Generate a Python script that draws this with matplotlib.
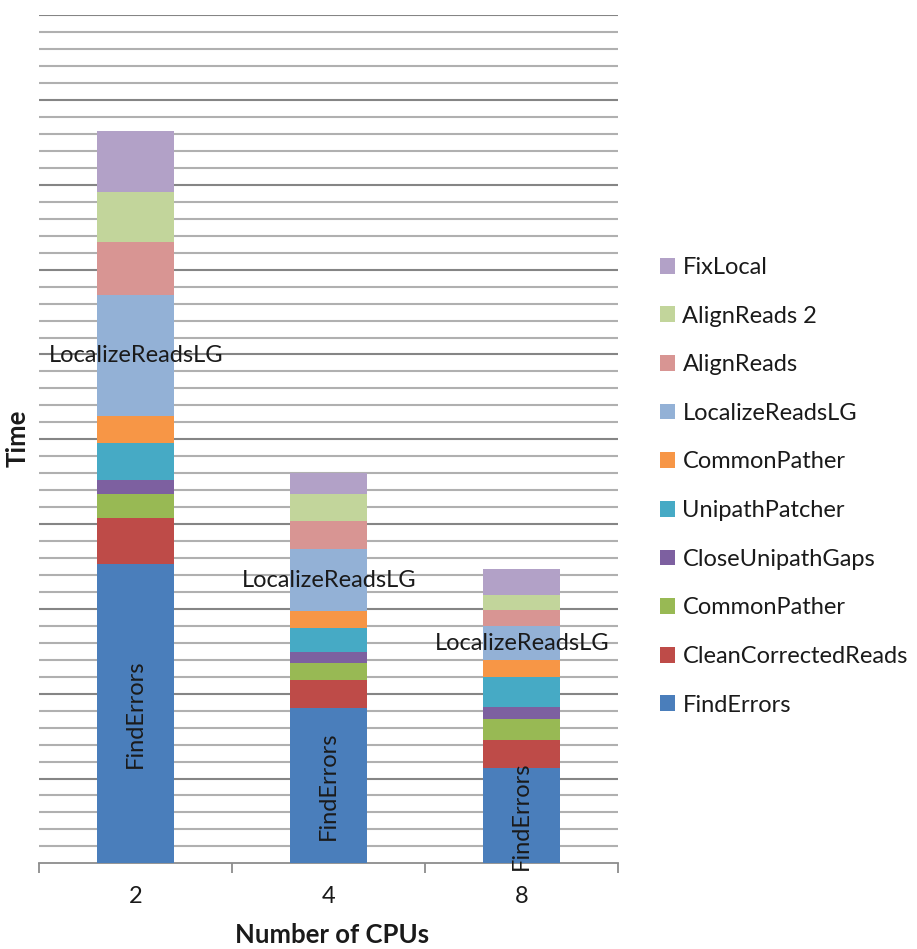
import matplotlib
matplotlib.use("Agg")
import matplotlib.pyplot as plt
import numpy as np

plt.rcParams['font.family'] = ['Lato', 'DejaVu Sans']

categories = ["2", "4", "8"]
series = ["FindErrors", "CleanCorrectedReads", "CommonPather", "CloseUnipathGaps",
          "UnipathPatcher", "CommonPather", "LocalizeReadsLG", "AlignReads",
          "AlignReads 2", "FixLocal"]
find_errors = [17.63, 9.17, 5.60]
clean_corrected = [2.71, 1.64, 1.67]
common_pather_1 = [1.42, 1.02, 1.22]
close_unipath = [0.82, 0.65, 0.74]
unipath_patcher = [2.22, 1.41, 1.76]
common_pather_2 = [1.59, 0.99, 0.98]
localize_reads = [7.12, 3.63, 2.00]
align_reads = [3.14, 1.67, 0.94]
align_reads_2 = [2.91, 1.58, 0.89]
fix_local = [3.62, 1.27, 1.57]
values = [find_errors, clean_corrected, common_pather_1, close_unipath, unipath_patcher,
          common_pather_2, localize_reads, align_reads, align_reads_2, fix_local]
colors = ["#4A7EBB", "#BE4B48", "#98B954", "#7D60A0", "#46AAC5", "#F79646",
          "#93B1D6", "#D89593", "#C2D59B", "#B2A1C7"]

W, H = 917, 949
fig = plt.figure(figsize=(W / 100, H / 100), dpi=100)
ax = fig.add_axes([39.3 / W, 1 - 863.3 / H, (618.3 - 39.3) / W, (863.3 - 15.3) / H])

x = np.arange(len(categories))
bottom = np.zeros(len(categories))
handles = []
txtc = "#1a1a1a"
fs = 17
for i, (name, vals, c) in enumerate(zip(series, values, colors)):
    vals = np.array(vals)
    b = ax.bar(x, vals, 0.4, bottom=bottom, color=c, label=name, zorder=3, linewidth=0)
    handles.append(b)
    if name == "LocalizeReadsLG":
        for xi, bi, vi in zip(x, bottom, vals):
            ax.text(xi, bi + vi / 2, name, ha="center", va="center", fontsize=fs,
                    color=txtc, zorder=5)
    if name == "FindErrors":
        for xi, bi, vi in zip(x, bottom, vals):
            ax.text(xi, bi + vi / 2, name, ha="center", va="center", fontsize=fs,
                    color=txtc, rotation=90, zorder=5)
    bottom += vals

ax.set_xlim(-0.5, 2.5)
ax.set_ylim(0, 50)
for yv in range(1, 51):
    ax.axhline(yv, color="#858585" if yv % 5 == 0 else "#b0b0b0", lw=1.5, zorder=1)

for s in ["left", "right", "top"]:
    ax.spines[s].set_visible(False)
ax.spines["bottom"].set_color("#8c8c8c")
ax.spines["bottom"].set_linewidth(1.3)
ax.set_yticks([])
ax.set_xticks(x)
ax.set_xticklabels(categories, fontsize=fs, color=txtc)
ax.tick_params(axis="x", which="major", length=0, pad=16)
ax.set_xticks([-0.5, 0.5, 1.5, 2.5], minor=True)
ax.tick_params(axis="x", which="minor", length=7, width=1.3, color="#8c8c8c", direction="out")

fig.text(332 / W, 1 - 935 / H, "Number of CPUs", ha="center", va="center",
         fontsize=18.5, fontweight="bold", color=txtc)
fig.text(18 / W, 1 - 438 / H, "Time", ha="center", va="center", rotation=90,
         fontsize=18.5, fontweight="bold", color=txtc)

leg = fig.legend(handles[::-1], series[::-1], loc="upper left",
                 bbox_to_anchor=(660 / W, 1 - 257 / H), frameon=False,
                 fontsize=fs, handlelength=0.65, handleheight=0.65,
                 handletextpad=0.3, labelspacing=1.17, borderaxespad=0, borderpad=0)
for t in leg.get_texts():
    t.set_color(txtc)

fig.savefig("out.png", dpi=100)
